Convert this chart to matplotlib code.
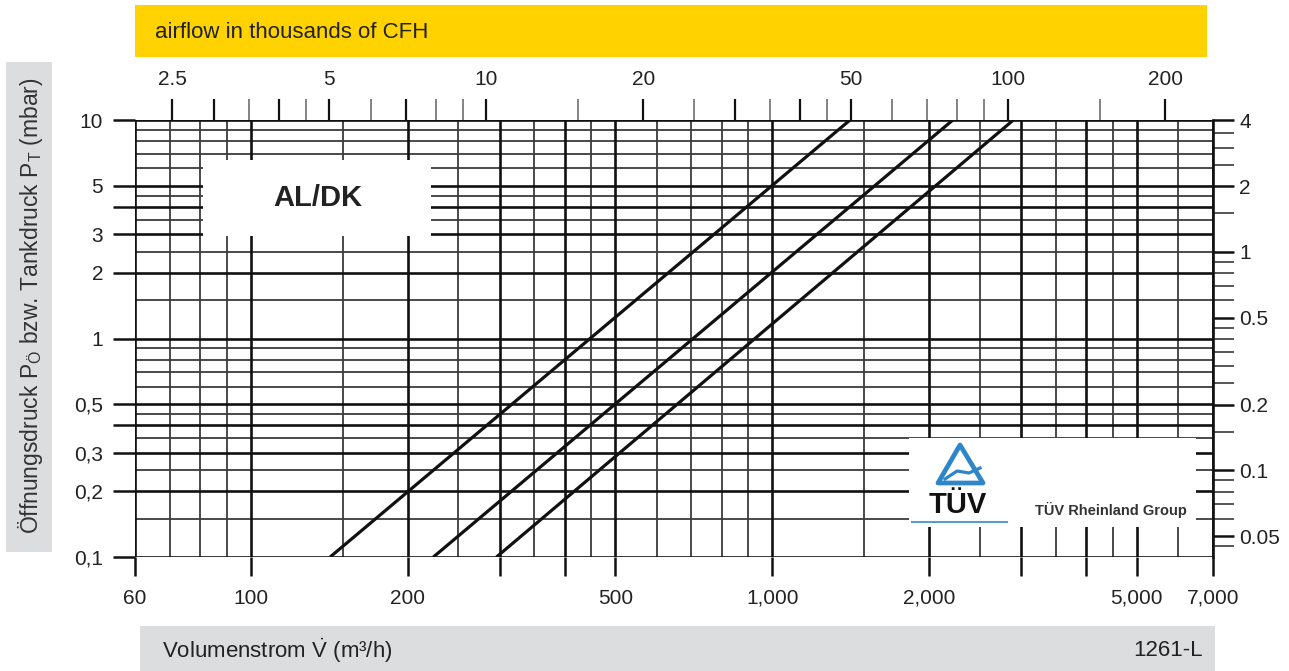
import numpy as np
import matplotlib
matplotlib.use('Agg')
import matplotlib.pyplot as plt
from matplotlib.patches import Rectangle, Polygon
from matplotlib.ticker import NullFormatter, NullLocator, FixedLocator

plt.rcParams['font.family'] = ['Liberation Sans', 'DejaVu Sans']
plt.rcParams['mathtext.fontset'] = 'custom'
plt.rcParams['mathtext.rm'] = 'Liberation Sans'
plt.rcParams['mathtext.it'] = 'Liberation Sans:italic'
plt.rcParams['mathtext.bf'] = 'Liberation Sans:bold'

# characteristic curves: volume flow (m3/h) vs. opening pressure (mbar)
curve_a_flow = [142, 1410]
curve_a_pres = [0.1, 10]
curve_b_flow = [224, 2220]
curve_b_pres = [0.1, 10]
curve_c_flow = [296, 2900]
curve_c_pres = [0.1, 10]

# bottom axis (m3/h)
x_ticks = [60, 100, 200, 300, 400, 500, 1000, 2000, 3000, 4000, 5000, 7000]
x_labels = ['60', '100', '200', '', '', '500', '1,000', '2,000', '', '', '5,000', '7,000']
x_grid_major = [60, 100, 200, 300, 400, 500, 1000, 2000, 3000, 4000, 5000, 7000]
x_grid_minor = [70, 80, 90, 150, 250, 350, 450, 600, 700, 800, 900,
                1500, 2500, 3500, 4500, 6000]

# left axis (mbar)
y_ticks = [0.1, 0.2, 0.3, 0.4, 0.5, 1, 2, 3, 4, 5, 10]
y_labels = ['0,1', '0,2', '0,3', '', '0,5', '1', '2', '3', '', '5', '10']
y_grid_major = [0.1, 0.2, 0.3, 0.4, 0.5, 1, 2, 3, 4, 5, 10]
y_grid_minor = [0.15, 0.25, 0.35, 0.45, 0.6, 0.7, 0.8, 0.9,
                1.5, 2.5, 3.5, 4.5, 6, 7, 8, 9]

# top axis (thousands of CFH)
top_ticks = [2.5, 5, 10, 20, 50, 100, 200]
top_labels = ['2.5', '5', '10', '20', '50', '100', '200']
top_dark = [3, 4, 7, 30, 40]
top_light = [3.5, 4.5, 6, 8, 9, 15, 25, 35, 45, 60, 70, 80, 90, 150]

# right axis (inch water column)
right_ticks = [0.05, 0.1, 0.2, 0.5, 1, 2, 4]
right_labels = ['0.05', '0.1', '0.2', '0.5', '1', '2', '4']
right_minor = [0.045, 0.06, 0.07, 0.08, 0.09, 0.15, 0.25, 0.3, 0.35, 0.4, 0.45,
               0.6, 0.7, 0.8, 0.9, 1.5, 2.5, 3, 3.5]

M3H_TO_KCFH = 35.3147 / 1000
MBAR_PER_INWC = 2.49

W, H = 1289, 671
fig = plt.figure(figsize=(W / 100, H / 100), dpi=100)
fig.patch.set_facecolor('white')

ax = fig.add_axes([135 / W, 1 - 557 / H, (1213 - 135) / W, (557 - 120) / H])
ax.set_xscale('log')
ax.set_yscale('log')
ax.set_xlim(60, 7000)
ax.set_ylim(0.1, 10)
for s in ax.spines.values():
    s.set_visible(False)

for v in x_grid_minor:
    ax.axvline(v, color='#3c3c3c', lw=1.3, zorder=1)
for v in y_grid_minor:
    ax.axhline(v, color='#3c3c3c', lw=1.3, zorder=1)
for v in x_grid_major:
    ax.axvline(v, color='#111111', lw=1.9, zorder=2)
for v in y_grid_major:
    ax.axhline(v, color='#111111', lw=1.9, zorder=2)

for fx, py in [(curve_a_flow, curve_a_pres), (curve_b_flow, curve_b_pres),
               (curve_c_flow, curve_c_pres)]:
    ax.plot(fx, py, color='#111111', lw=2.3, zorder=3, solid_capstyle='butt')

ax.set_xticks(x_ticks, labels=x_labels)
ax.xaxis.set_minor_locator(NullLocator())
ax.xaxis.set_minor_formatter(NullFormatter())
ax.set_yticks(y_ticks, labels=y_labels)
ax.yaxis.set_minor_locator(NullLocator())
ax.yaxis.set_minor_formatter(NullFormatter())
ax.tick_params(axis='x', direction='out', length=14, width=1.8, color='#111111',
               pad=9, labelsize=15, labelcolor='#222222')
ax.tick_params(axis='y', direction='out', length=16, width=1.8, color='#111111',
               pad=7, labelsize=15, labelcolor='#222222')

# top axis in thousands of CFH
top = ax.secondary_xaxis('top', functions=(lambda x: x * M3H_TO_KCFH,
                                           lambda k: k / M3H_TO_KCFH))
top.set_xticks(top_ticks, labels=top_labels)
top.xaxis.set_minor_locator(FixedLocator(top_dark))
top.xaxis.set_minor_formatter(NullFormatter())
top.tick_params(which='both', direction='out', length=15, width=1.6, color='#111111',
                pad=7, labelsize=15, labelcolor='#222222')
top2 = ax.secondary_xaxis('top', functions=(lambda x: x * M3H_TO_KCFH,
                                            lambda k: k / M3H_TO_KCFH))
top2.set_xticks(top_light, labels=[''] * len(top_light))
top2.xaxis.set_minor_locator(NullLocator())
top2.tick_params(direction='out', length=15, width=1.3, color='#7a7a7a')
for s in list(top.spines.values()) + list(top2.spines.values()):
    s.set_visible(False)

# right axis in inch water column
right = ax.secondary_yaxis('right', functions=(lambda p: p / MBAR_PER_INWC,
                                               lambda w: w * MBAR_PER_INWC))
right.set_yticks(right_ticks, labels=right_labels)
right.yaxis.set_minor_locator(FixedLocator(right_minor))
right.yaxis.set_minor_formatter(NullFormatter())
right.tick_params(which='major', direction='out', length=15, width=1.8, color='#111111',
                  pad=4, labelsize=15, labelcolor='#222222')
right.tick_params(which='minor', direction='out', length=15, width=1.4, color='#555555')
for s in right.spines.values():
    s.set_visible(False)
ax.plot([1, 1], [0, 1], transform=ax.transAxes, color='#111111', lw=1.9,
        clip_on=False, zorder=4)

# overlay in pixel coordinates for bars and boxes
ov = fig.add_axes([0, 0, 1, 1], zorder=5)
ov.set_xlim(0, W)
ov.set_ylim(H, 0)
ov.axis('off')
ov.patch.set_alpha(0)

ov.add_patch(Rectangle((135, 5), 1072, 52, color='#FFD200', lw=0))
ov.text(155, 33, 'airflow in thousands of CFH', fontsize=16, color='#222222',
        va='center', ha='left')

ov.add_patch(Rectangle((6, 62), 46, 490, color='#DCDDDF', lw=0))
ov.text(31, 306, 'Öffnungsdruck P$_\\mathrm{Ö}$ bzw. Tankdruck P$_\\mathrm{T}$ (mbar)',
        fontsize=16.5, color='#333333', rotation=90, va='center', ha='center')

ov.add_patch(Rectangle((140, 626), 1075, 45, color='#DCDDDF', lw=0))
ov.text(162, 651, 'Volumenstrom $\\dot{\\mathrm{V}}$ (m³/h)', fontsize=16,
        color='#222222', va='center', ha='left')
ov.text(1203, 651, '1261-L', fontsize=16, color='#222222', va='center', ha='right')

ov.add_patch(Rectangle((203, 160), 228, 76, color='white', lw=0))
ov.text(318, 198, 'AL/DK', fontsize=21, fontweight='bold', color='#222222',
        va='center', ha='center')

ov.add_patch(Rectangle((909, 438), 287, 89, color='white', lw=0))
ov.add_patch(Polygon([(960, 445), (938, 483), (983, 483)], closed=True,
                     fill=False, edgecolor='#2e86c8', lw=3.4, joinstyle='round'))
ov.plot([945, 957, 969, 980], [479, 471, 473, 468], color='#2e86c8', lw=2.3)
ov.text(958, 505, 'TÜV', fontsize=21, fontweight='bold', color='#111111',
        va='center', ha='center')
ov.plot([912, 1007], [522, 522], color='#5a9bd0', lw=1.5)
ov.text(1111, 510, 'TÜV Rheinland Group', fontsize=10.5, fontweight='bold',
        color='#333333', va='center', ha='center')

fig.savefig('out.png', dpi=100)
